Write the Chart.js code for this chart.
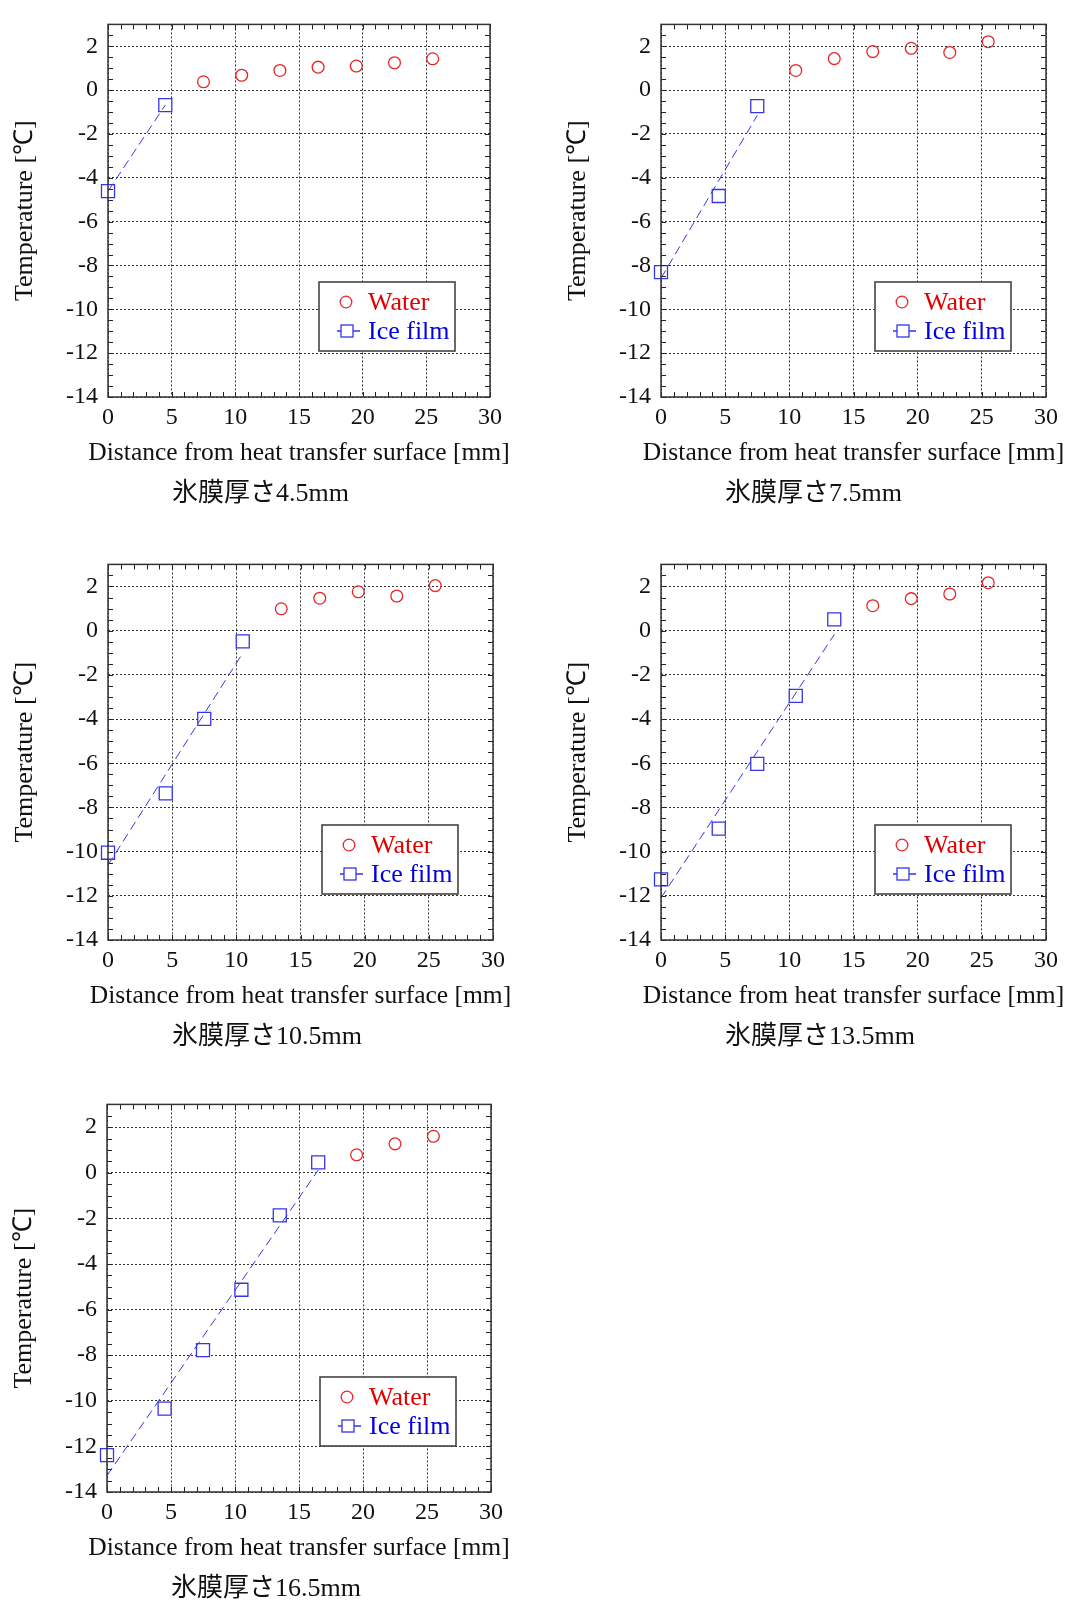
<!DOCTYPE html>
<html>
<head>
<meta charset="utf-8">
<script src="https://cdn.jsdelivr.net/npm/chart.js@4"></script>
<style>
  html, body { margin: 0; padding: 0; background: #fff; }
  body { position: relative; width: 1092px; height: 1609px; overflow: hidden; }
  canvas { position: absolute; }
  .caption {
    position: absolute;
    font-family: "Liberation Serif", "Noto Sans CJK JP", serif;
    font-size: 26px;
    color: #111;
    white-space: nowrap;
    line-height: 30px;
  }
</style>
</head>
<body>
<script>
// measuring positions (mm from the heat transfer surface)
const positions = [0, 4.5, 7.5, 10.5, 13.5, 16.5, 19.5, 22.5, 25.5];

// ice film thickness of each panel
const thickness = ['4.5', '7.5', '10.5', '13.5', '16.5'];

// temperatures, ice points first, water points after
const ice45 = [-4.61, -0.68];
const water45 = [0.38, 0.68, 0.90, 1.05, 1.10, 1.25, 1.43];

const ice75 = [-8.30, -4.83, -0.73];
const water75 = [0.90, 1.44, 1.76, 1.91, 1.72, 2.21];

const ice105 = [-10.05, -7.36, -3.99, -0.48];
const water105 = [0.99, 1.47, 1.76, 1.57, 2.04];

const ice135 = [-11.26, -8.96, -6.03, -2.95, 0.51];
const water135 = [1.13, 1.45, 1.66, 2.17];

const ice165 = [-12.38, -10.34, -7.78, -5.13, -1.87, 0.46];
const water165 = [0.79, 1.27, 1.60];

const iceSets = [ice45, ice75, ice105, ice135, ice165];
const waterSets = [water45, water75, water105, water135, water165];

// axis setup
const xMin = 0, xMax = 30, xStep = 5;
const yMin = -14, yMax = 3, yStep = 2;
const xTitle = 'Distance from heat transfer surface [mm]';
const yTitle = 'Temperature [℃]';

// page layout: canvas origin and the wanted plot area for each panel
const layout = [
  { ox: 0,   oy: 0,    h: 540, left: 108, top: 12,   right: 490,  bottom: 397 },
  { ox: 546, oy: 0,    h: 540, left: 661, top: 12,   right: 1046, bottom: 397 },
  { ox: 0,   oy: 540,  h: 540, left: 108, top: 554,  right: 493,  bottom: 940 },
  { ox: 546, oy: 540,  h: 540, left: 661, top: 554,  right: 1046, bottom: 940 },
  { ox: 0,   oy: 1080, h: 529, left: 107, top: 1098, right: 491,  bottom: 1492 }
];

const RED = '#e8262a';
const BLUE = '#3535e8';
const SERIF = '"Liberation Serif", "Times New Roman", serif';
const X_AXIS_H = 75;

function leastSquares(xs, ys) {
  const n = xs.length;
  const mx = xs.reduce((a, b) => a + b, 0) / n;
  const my = ys.reduce((a, b) => a + b, 0) / n;
  let sxy = 0, sxx = 0;
  for (let i = 0; i < n; i++) {
    sxy += (xs[i] - mx) * (ys[i] - my);
    sxx += (xs[i] - mx) * (xs[i] - mx);
  }
  const slope = sxy / sxx;
  return { slope: slope, icept: my - slope * mx };
}

// frame, inward minor ticks, x title (wider than the plot) and the boxed legend
const framePlugin = {
  id: 'frame',
  afterDatasetsDraw(chart) {
    const { ctx, chartArea: a, scales } = chart;
    const xs = scales.x, ys = scales.y;
    ctx.save();
    ctx.strokeStyle = '#222';
    ctx.lineWidth = 1;
    ctx.beginPath();
    for (let v = xMin; v <= xMax; v += 1) {
      const px = Math.round(xs.getPixelForValue(v)) + 0.5;
      ctx.moveTo(px, a.bottom); ctx.lineTo(px, a.bottom - 5);
      ctx.moveTo(px, a.top); ctx.lineTo(px, a.top + 5);
    }
    for (let v = yMin; v <= yMax; v += 0.5) {
      const py = Math.round(ys.getPixelForValue(v)) + 0.5;
      ctx.moveTo(a.left, py); ctx.lineTo(a.left + 5, py);
      ctx.moveTo(a.right, py); ctx.lineTo(a.right - 5, py);
    }
    ctx.stroke();
    ctx.lineWidth = 1.5;
    ctx.strokeStyle = '#333';
    ctx.strokeRect(a.left, a.top, a.right - a.left, a.bottom - a.top);

    ctx.fillStyle = '#111';
    ctx.font = '25.5px ' + SERIF;
    ctx.textAlign = 'center';
    ctx.textBaseline = 'middle';
    ctx.fillText(xTitle, (a.left + a.right) / 2, a.bottom + 56);

    // legend box
    const bx = a.right - 171, by = a.bottom - 115, bw = 136, bh = 69;
    ctx.fillStyle = '#fff';
    ctx.fillRect(bx, by, bw, bh);
    ctx.strokeStyle = '#444';
    ctx.lineWidth = 1.6;
    ctx.strokeRect(bx, by, bw, bh);

    ctx.lineWidth = 1.3;
    ctx.strokeStyle = RED;
    ctx.beginPath();
    ctx.arc(bx + 27, by + 20, 5.8, 0, Math.PI * 2);
    ctx.stroke();

    ctx.strokeStyle = BLUE;
    ctx.beginPath();
    ctx.moveTo(bx + 18, by + 49); ctx.lineTo(bx + 22, by + 49);
    ctx.moveTo(bx + 34, by + 49); ctx.lineTo(bx + 41, by + 49);
    ctx.stroke();
    ctx.strokeRect(bx + 22, by + 43, 12, 12);

    ctx.font = '26px ' + SERIF;
    ctx.textBaseline = 'middle';
    ctx.textAlign = 'left';
    ctx.fillStyle = '#e00000';
    ctx.fillText('Water', bx + 49, by + 21);
    ctx.fillStyle = '#0000e0';
    ctx.fillText('Ice film', bx + 49, by + 50);
    ctx.restore();
  }
};

layout.forEach((L, i) => {
  const ice = iceSets[i];
  const water = waterSets[i];
  const iceX = positions.slice(0, ice.length);
  const waterX = positions.slice(ice.length, ice.length + water.length);
  const fit = leastSquares(iceX, ice);
  const fx0 = iceX[0], fx1 = iceX[iceX.length - 1];

  const canvas = document.createElement('canvas');
  canvas.width = 546;
  canvas.height = L.h;
  canvas.style.left = L.ox + 'px';
  canvas.style.top = L.oy + 'px';
  document.body.appendChild(canvas);

  const yAxisW = L.left - L.ox;
  const padTop = L.top - L.oy;
  const padRight = L.ox + 546 - L.right;
  const padBottom = L.h - (L.bottom - L.oy) - X_AXIS_H;

  new Chart(canvas, {
    type: 'scatter',
    data: {
      datasets: [
        {
          label: 'fit',
          type: 'line',
          data: [
            { x: fx0, y: fit.icept + fit.slope * fx0 },
            { x: fx1, y: fit.icept + fit.slope * fx1 }
          ],
          borderColor: BLUE,
          borderWidth: 1,
          borderDash: [9, 5],
          pointRadius: 0,
          fill: false,
          clip: false
        },
        {
          label: 'Ice film',
          data: iceX.map((x, k) => ({ x: x, y: ice[k] })),
          pointStyle: 'rect',
          pointRadius: 9.2,
          pointBorderWidth: 1.3,
          borderColor: BLUE,
          backgroundColor: '#fff',
          clip: false
        },
        {
          label: 'Water',
          data: waterX.map((x, k) => ({ x: x, y: water[k] })),
          pointStyle: 'circle',
          pointRadius: 5.9,
          pointBorderWidth: 1.3,
          borderColor: RED,
          backgroundColor: 'rgba(255,255,255,0)',
          clip: false
        }
      ]
    },
    options: {
      responsive: false,
      animation: false,
      events: [],
      layout: { padding: { top: padTop, left: 0, right: padRight, bottom: padBottom } },
      plugins: {
        legend: { display: false },
        tooltip: { enabled: false }
      },
      scales: {
        x: {
          type: 'linear',
          min: xMin,
          max: xMax,
          ticks: { stepSize: xStep, color: '#111', font: { family: SERIF, size: 24 }, padding: 6, maxRotation: 0 },
          grid: { color: '#333', lineWidth: 1, drawTicks: false },
          border: { display: false, dash: [2, 2] },
          afterFit: s => { s.height = X_AXIS_H; }
        },
        y: {
          type: 'linear',
          min: yMin,
          max: yMax,
          ticks: { stepSize: yStep, color: '#111', font: { family: SERIF, size: 24 }, padding: 10 },
          afterBuildTicks: s => { s.ticks = s.ticks.filter(t => t.value <= 2); },
          grid: { color: '#333', lineWidth: 1, drawTicks: false },
          border: { display: false, dash: [2, 2] },
          title: {
            display: true,
            text: yTitle,
            color: '#111',
            font: { family: SERIF, size: 26 },
            padding: { top: yAxisW - 83 - 15.6, bottom: 0 }
          },
          afterFit: s => { s.width = yAxisW; }
        }
      }
    },
    plugins: [framePlugin]
  });

  const cap = document.createElement('div');
  cap.className = 'caption';
  cap.textContent = '氷膜厚さ' + thickness[i] + 'mm';
  cap.style.left = (L.left + 64) + 'px';
  cap.style.top = (L.bottom + 96 - 15) + 'px';
  document.body.appendChild(cap);
});
</script>
</body>
</html>
